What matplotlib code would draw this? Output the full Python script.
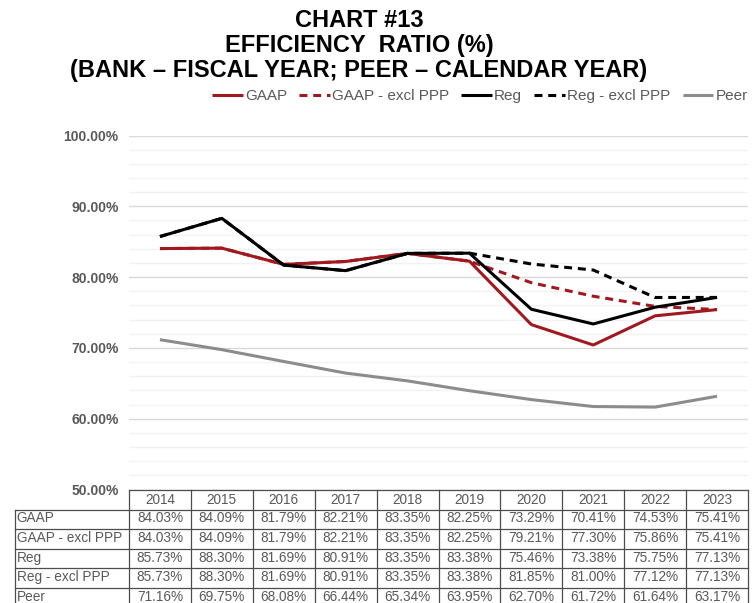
import numpy as np
import matplotlib
matplotlib.use("Agg")
import matplotlib.pyplot as plt

# ---- data ----
years = ["2014", "2015", "2016", "2017", "2018", "2019", "2020", "2021", "2022", "2023"]
gaap = [84.03, 84.09, 81.79, 82.21, 83.35, 82.25, 73.29, 70.41, 74.53, 75.41]
gaap_excl = [84.03, 84.09, 81.79, 82.21, 83.35, 82.25, 79.21, 77.30, 75.86, 75.41]
reg = [85.73, 88.30, 81.69, 80.91, 83.35, 83.38, 75.46, 73.38, 75.75, 77.13]
reg_excl = [85.73, 88.30, 81.69, 80.91, 83.35, 83.38, 81.85, 81.00, 77.12, 77.13]
peer = [71.16, 69.75, 68.08, 66.44, 65.34, 63.95, 62.70, 61.72, 61.64, 63.17]
series_names = ["GAAP", "GAAP - excl PPP", "Reg", "Reg - excl PPP", "Peer"]
yticks = [50, 60, 70, 80, 90, 100]

RED = "#A0191E"
GRAY = "#8C8C8C"
TXT = "#595959"
FONT = ["Liberation Sans", "DejaVu Sans"]

W, H = 752, 603
fig = plt.figure(figsize=(W / 100, H / 100), dpi=100)

# plot area in pixels
px_l, px_r, px_t, px_b = 129, 748, 135.5, 489.5
ax = fig.add_axes([px_l / W, 1 - px_b / H, (px_r - px_l) / W, (px_b - px_t) / H])

x = np.arange(len(years))
dash = (0, (2.6, 1.9))
styles = [
    (gaap, RED, "-"),
    (gaap_excl, RED, dash),
    (reg, "black", "-"),
    (reg_excl, "black", dash),
    (peer, GRAY, "-"),
]
handles = []
for (vals, col, ls), name in zip(styles, series_names):
    h, = ax.plot(x, vals, color=col, linestyle=ls, linewidth=2.2, label=name,
                 solid_capstyle="butt", dash_capstyle="butt")
    handles.append(h)

ax.set_xlim(-0.5, len(years) - 0.5)
ax.set_ylim(50, 100)
ax.set_yticks(yticks)
ax.set_yticklabels([f"{v:.2f}%" for v in yticks], fontsize=10, fontweight="bold",
                   color=TXT, family=FONT)
ax.set_yticks(np.arange(50, 101, 2), minor=True)
ax.tick_params(axis="y", which="both", length=0, pad=7.5)
ax.set_xticks([])
ax.grid(axis="y", which="major", color="#D9D9D9", linewidth=1)
ax.grid(axis="y", which="minor", color="#F2F2F2", linewidth=1)
ax.set_axisbelow(True)
for s in ax.spines.values():
    s.set_visible(False)

# title
fig.text(359 / W, 1 - 9 / H,
         "CHART #13\nEFFICIENCY  RATIO (%)\n(BANK \u2013 FISCAL YEAR; PEER \u2013 CALENDAR YEAR)",
         ha="center", va="top", fontsize=17, fontweight="bold", family=FONT,
         linespacing=1.1)

# legend
leg = fig.legend(handles=handles, loc="center left", bbox_to_anchor=(212 / W, 1 - 96 / H),
                 ncol=5, frameon=False, handlelength=2.0, handletextpad=0.15,
                 columnspacing=0.8, borderaxespad=0, borderpad=0,
                 prop={"family": FONT, "size": 11})
for t in leg.get_texts():
    t.set_color(TXT)

# data table below the plot
row_h = 19.6
tab_top = 490.0
n_rows = len(series_names) + 1
tax = fig.add_axes([px_l / W, 1 - (tab_top + n_rows * row_h) / H,
                    (px_r - px_l) / W, n_rows * row_h / H])
tax.set_xlim(-0.5, len(years) - 0.5)
tax.set_ylim(n_rows, 0)
tax.axis("off")
unit = (px_r - px_l) / len(years)
x_lab = -0.5 - (px_l - 15) / unit
lc = "#4D4D4D"
lw = 0.9
tax.plot([-0.5, len(years) - 0.5], [0, 0], color=lc, lw=lw, clip_on=False)
for r in range(1, n_rows + 1):
    tax.plot([x_lab, len(years) - 0.5], [r, r], color=lc, lw=lw, clip_on=False)
for c in range(len(years) + 1):
    tax.plot([c - 0.5, c - 0.5], [0, n_rows], color=lc, lw=lw, clip_on=False)
tax.plot([x_lab, x_lab], [1, n_rows], color=lc, lw=lw, clip_on=False)

fs_tab = 9.8
for c, yr in enumerate(years):
    tax.text(c, 0.5, yr, ha="center", va="center", fontsize=fs_tab, color=TXT,
             family=FONT, clip_on=False)
all_vals = [gaap, gaap_excl, reg, reg_excl, peer]
for r, (name, vals) in enumerate(zip(series_names, all_vals), start=1):
    tax.text(x_lab + 0.03, r + 0.45, name, ha="left", va="center", fontsize=fs_tab,
             color=TXT, family=FONT, clip_on=False)
    for c, v in enumerate(vals):
        tax.text(c, r + 0.45, f"{v:.2f}%", ha="center", va="center", fontsize=fs_tab,
                 color=TXT, family=FONT, clip_on=False)

fig.savefig("out.png", dpi=100)
